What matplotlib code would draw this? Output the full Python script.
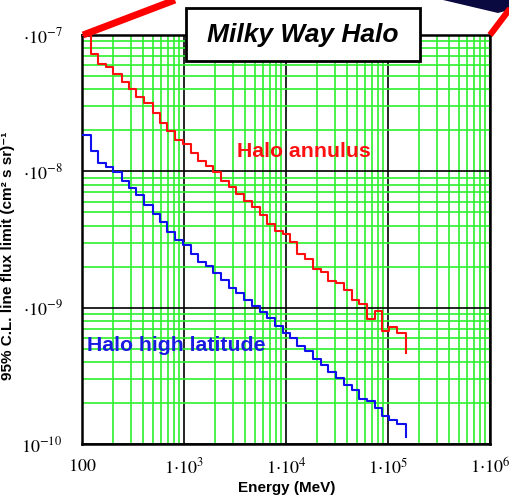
import matplotlib
matplotlib.use("Agg")
import matplotlib.pyplot as plt
from matplotlib.lines import Line2D
from matplotlib.patches import Rectangle, Polygon
from matplotlib.ticker import NullFormatter, LogLocator

# bin lower edges (MeV), shared by both curves
energy_edges = [100, 122.5, 144.5, 170.8, 200, 245, 290, 338, 407, 493,
                582, 686, 816, 984, 1171, 1366, 1625, 1938, 2290, 2774,
                3264, 3918, 4662, 5524, 6513, 7715, 9346, 10870, 12960, 15360,
                18520, 21890, 25980, 30770, 36700, 44070, 51730, 61830, 74560, 87730,
                103400, 121700, 150200]

annulus_flux = [1.00e-7, 7.26e-8, 6.13e-8, 5.86e-8, 5.15e-8, 4.55e-8, 4.04e-8, 3.53e-8, 3.16e-8, 2.67e-8,
                2.25e-8, 1.98e-8, 1.70e-8, 1.58e-8, 1.36e-8, 1.19e-8, 1.10e-8, 9.87e-9, 8.56e-9, 7.74e-9,
                6.84e-9, 6.01e-9, 5.47e-9, 4.80e-9, 4.10e-9, 3.62e-9, 3.48e-9, 3.01e-9, 2.47e-9, 2.29e-9,
                1.92e-9, 1.84e-9, 1.58e-9, 1.52e-9, 1.35e-9, 1.13e-9, 1.07e-9, 8.31e-10, 9.46e-10, 6.71e-10,
                7.17e-10, 6.53e-10, 4.66e-10]

highlat_flux = [1.85e-8, 1.40e-8, 1.16e-8, 1.08e-8, 9.92e-9, 8.45e-9, 7.53e-9, 6.67e-9, 5.63e-9, 4.86e-9,
                4.24e-9, 3.60e-9, 3.15e-9, 2.87e-9, 2.49e-9, 2.18e-9, 2.03e-9, 1.79e-9, 1.60e-9, 1.39e-9,
                1.29e-9, 1.14e-9, 1.02e-9, 9.24e-10, 8.41e-10, 7.38e-10, 6.53e-10, 6.00e-10, 5.27e-10, 4.78e-10,
                4.21e-10, 3.82e-10, 3.36e-10, 3.05e-10, 2.73e-10, 2.51e-10, 2.14e-10, 2.08e-10, 1.84e-10, 1.60e-10,
                1.51e-10, 1.41e-10, 1.13e-10]

x_ticks = [1e2, 1e3, 1e4, 1e5, 1e6]
x_tick_labels = [r"$100$", r"$1{\cdot}10^{3}$", r"$1{\cdot}10^{4}$", r"$1{\cdot}10^{5}$", r"$1{\cdot}10^{6}$"]
y_ticks = [1e-10, 1e-9, 1e-8, 1e-7]
y_tick_labels = [r"$10^{-10}$", r"${\cdot}10^{-9}$", r"${\cdot}10^{-8}$", r"${\cdot}10^{-7}$"]

plt.rcParams["mathtext.fontset"] = "stix"
plt.rcParams["font.family"] = ["Liberation Sans", "DejaVu Sans"]

W, H = 509, 500
fig = plt.figure(figsize=(W / 100, H / 100), dpi=100)
ax = fig.add_axes([82 / W, 1 - 444 / H, 408 / W, 409 / H])

ax.plot(energy_edges, annulus_flux, drawstyle="steps-post", color="#ff1010", lw=1.5, zorder=3)
ax.plot(energy_edges, highlat_flux, drawstyle="steps-post", color="#1010ee", lw=1.5, zorder=3)

ax.set_xscale("log")
ax.set_yscale("log")
ax.set_xlim(1e2, 1e6)
ax.set_ylim(1e-10, 1e-7)

ax.xaxis.set_minor_locator(LogLocator(base=10, subs=range(2, 10), numticks=20))
ax.yaxis.set_minor_locator(LogLocator(base=10, subs=range(2, 10), numticks=20))
ax.xaxis.set_minor_formatter(NullFormatter())
ax.yaxis.set_minor_formatter(NullFormatter())
ax.set_xticks(x_ticks)
ax.set_xticklabels(x_tick_labels, fontsize=13)
ax.set_yticks(y_ticks)
ax.set_yticklabels(y_tick_labels, fontsize=13)
ax.tick_params(which="both", length=0)
ax.tick_params(axis="x", pad=10)
ax.tick_params(axis="y", pad=14)

ax.set_axisbelow(True)
ax.grid(which="minor", color="#2ef02e", lw=1.2)
ax.grid(which="major", color="black", lw=1.2)
for side in ax.spines.values():
    side.set_linewidth(1.8)

ax.text(0.38, 0.714, "Halo annulus", transform=ax.transAxes, color="#ff1010",
        fontsize=15.3, fontweight="bold", va="center", ha="left", zorder=4)
ax.text(0.012, 0.242, "Halo high latitude", transform=ax.transAxes, color="#1a1ae0",
        fontsize=15.3, fontweight="bold", va="center", ha="left", zorder=4)

fig.text(287 / W, 1 - 488 / H, "Energy (MeV)", fontsize=11, fontweight="bold",
         ha="center", va="center")
fig.text(8 / W, 1 - 256 / H, "95% C.L. line flux limit (cm² s sr)⁻¹", rotation=90,
         fontsize=11, fontweight="bold", ha="center", va="center")

# title box
fig.add_artist(Rectangle((186 / W, 1 - 61 / H), 234 / W, 53 / H, transform=fig.transFigure,
                         facecolor="white", edgecolor="black", lw=2, zorder=5))
fig.text(303 / W, 1 - 35 / H, "Milky Way Halo", fontsize=19, fontweight="bold",
         style="italic", ha="center", va="center", zorder=6)

# connector lines to the inset picture
fig.add_artist(Line2D([83 / W, 175 / W], [1 - 35 / H, 1.0], transform=fig.transFigure,
                      color="#ff0000", lw=5, solid_capstyle="butt", zorder=4))
fig.add_artist(Polygon([(443 / W, 1.0), (1.0, 1.0), (1.0, 1 - 10 / H), (498 / W, 1 - 13 / H)],
                       closed=True, transform=fig.transFigure, facecolor="#0a0a40",
                       edgecolor="none", zorder=4))
fig.add_artist(Line2D([490 / W, 512 / W], [1 - 35 / H, 1 - 6 / H], transform=fig.transFigure,
                      color="#ff0000", lw=4.5, solid_capstyle="butt", zorder=4))

fig.savefig("out.png", dpi=100)
